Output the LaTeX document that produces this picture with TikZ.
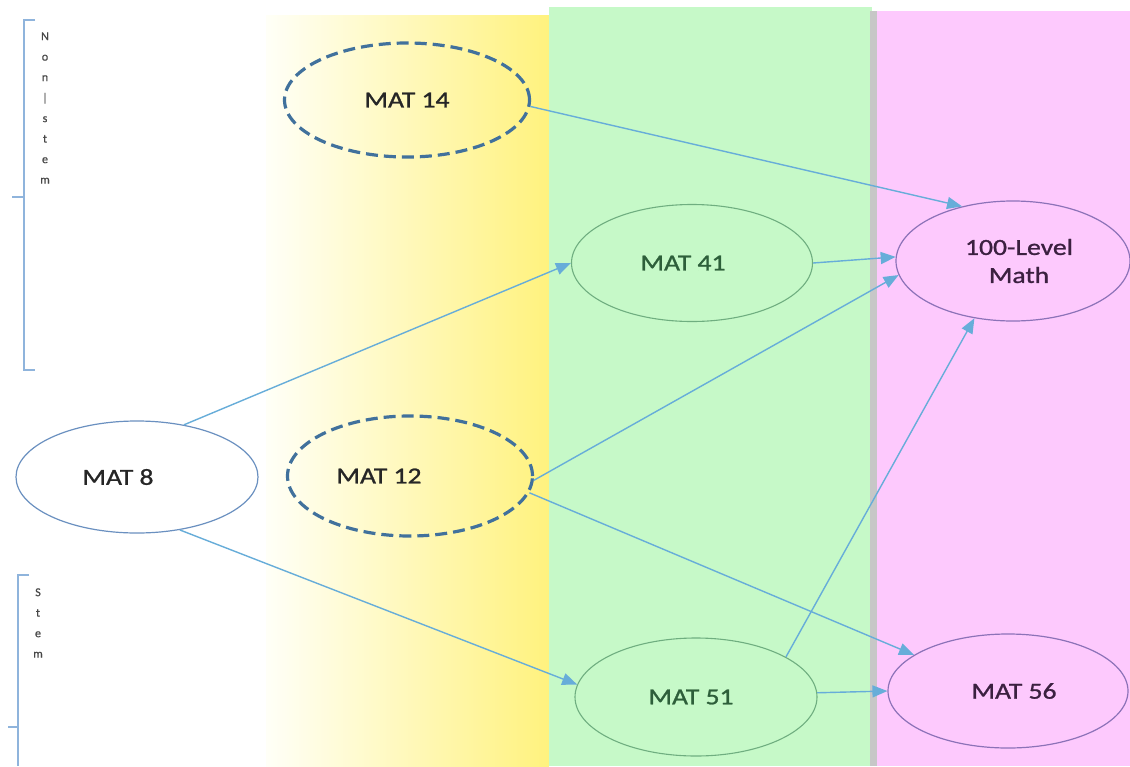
\documentclass[tikz,border=0pt]{standalone}
\usepackage{fontspec}
\setmainfont{Carlito}
\newfontfamily\coursefont[FakeStretch=1.2,FakeBold=1.1]{Carlito}
\newfontfamily\sidefont[FakeBold=0.8]{Carlito}
\usetikzlibrary{shapes.geometric,arrows.meta}
\definecolor{bandgreen}{HTML}{C6F9C8}
\definecolor{bandpink}{HTML}{FDC9FD}
\definecolor{bandyellow}{HTML}{FFF27E}
\definecolor{dashblue}{HTML}{41719C}
\definecolor{linkblue}{HTML}{67ADD9}
\definecolor{ringblue}{HTML}{6A90C0}
\definecolor{ringgreen}{HTML}{6FAE80}
\definecolor{ringpurple}{HTML}{8C72B8}
\definecolor{txtdark}{HTML}{262626}
\definecolor{txtgreen}{HTML}{2D5F3A}
\definecolor{txtpurple}{HTML}{3B2040}
\definecolor{bracketblue}{HTML}{8FB4DC}
\tikzset{
  course/.style={ellipse, minimum width=#1, text=txtdark, align=center, inner sep=0pt,
    font=\coursefont\fontsize{23}{28}\selectfont},
  course/.default=240pt,
  optional/.style={draw=dashblue, line width=3.2pt, dash pattern=on 12pt off 6pt},
  greenring/.style={draw=ringgreen, line width=1.1pt, text=txtgreen},
  purplering/.style={draw=ringpurple, line width=1.2pt, text=txtpurple},
  link/.style={draw=linkblue, line width=1.4pt, -{Triangle[length=15pt,width=12pt]}},
  bracket/.style={draw=bracketblue, line width=1.6pt},
  vlabel/.style={font=\sidefont\fontsize{12}{12}\selectfont, text=black!72, align=center, inner sep=0pt}
}
\begin{document}
\begin{tikzpicture}[x=1pt,y=-1pt]
\useasboundingbox (0,0) rectangle (1130,766);
\fill[white] (0,0) rectangle (1130,766);
% coloured bands
\shade[left color=yellow!3, right color=bandyellow] (266,15) rectangle (549,766);
\fill[bandgreen] (549,7) rectangle (872,766);
\fill[black!22] (870,11) rectangle (877,766);
\fill[bandpink] (877,11) rectangle (1130,766);
% group brackets
\draw[bracket] (35,20) -- (24,20) -- (24,370) -- (35,370);
\draw[bracket] (12,197) -- (24,197);
\node[vlabel] (nonstem) at (45,108) {N\\[8.5pt]o\\[8.5pt]n\\[8.5pt]|\\[8.5pt]s\\[8.5pt]t\\[8.5pt]e\\[8.5pt]m};
\draw[bracket] (29,575) -- (18,575) -- (18,766);
\draw[bracket] (8,727) -- (18,727);
\node[vlabel] (stem) at (38,623) {S\\[8.5pt]t\\[8.5pt]e\\[8.5pt]m};
% courses
\node[course=245pt, minimum height=114pt, optional] (m14) at (407,100) {MAT 14};
\node[course=241pt, minimum height=117pt, greenring] (m41) at (692,263) {MAT 41\hspace*{18pt}};
\node[course=234pt, minimum height=120pt, purplering] (m100) at (1013,261) {\hspace*{12pt}100-Level\\\hspace*{12pt}Math};
\node[course=242pt, minimum height=112pt, draw=ringblue, fill=white, line width=1.2pt] (m8) at (137,477) {MAT 8\hspace*{38pt}};
\node[course=245pt, minimum height=120pt, optional] (m12) at (410,476) {MAT 12\hspace*{62pt}};
\node[course=242pt, minimum height=118pt, greenring] (m51) at (696,697) {MAT 51\hspace*{10pt}};
\node[course=240pt, minimum height=114pt, purplering] (m56) at (1008,691) {\hspace*{12pt}MAT 56};
% prerequisites
\draw[link] (m14.-3) -- (m100.133);
\draw[link] (m8.48) -- (m41.180);
\draw[link] (m41.0) -- (m100.178);
\draw[link] (m12.-2) -- (m100.187);
\draw[link] (m12.-8) -- (m56.159);
\draw[link] (m8.-51) -- (m51.174);
\draw[link] (m51.24) -- (m100.236);
\draw[link] (m51.2) -- (m56.180);
\end{tikzpicture}
\end{document}
